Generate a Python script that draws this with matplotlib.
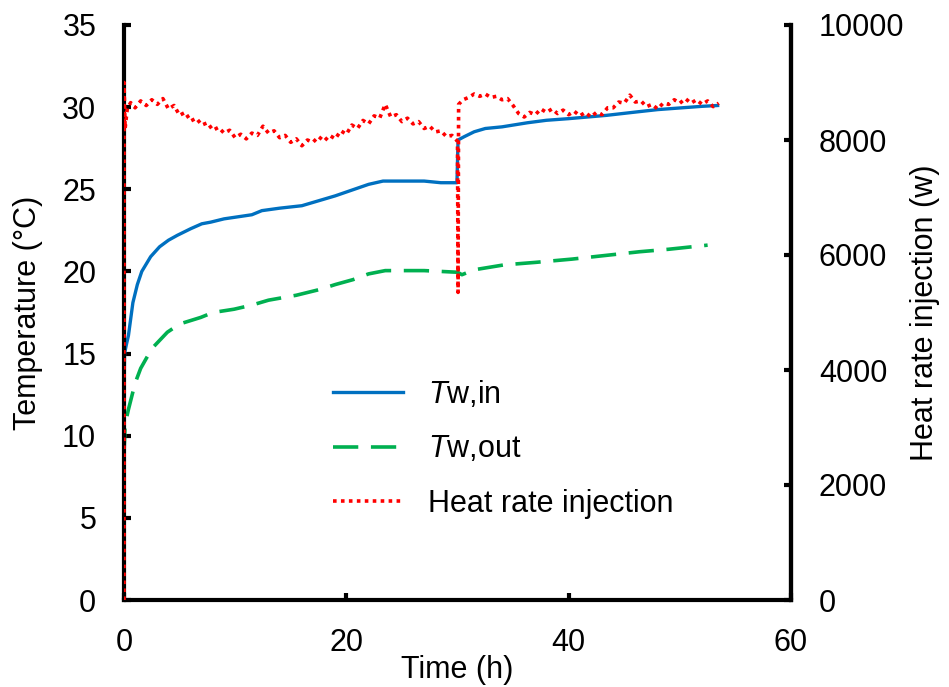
import matplotlib
matplotlib.use("Agg")
import matplotlib.pyplot as plt

plt.rcParams['font.family'] = ['Liberation Sans', 'DejaVu Sans']
plt.rcParams['mathtext.fontset'] = 'custom'
plt.rcParams['mathtext.it'] = 'Liberation Sans:italic'
plt.rcParams['mathtext.rm'] = 'Liberation Sans'

# ---- data ----
tin_t = [0.0, 0.05, 0.2, 0.4, 0.8, 1.2, 1.6, 2.4, 3.2, 4.0, 4.8, 6.0, 7.0, 7.8, 9.0, 10.0,
         11.5, 12.4, 14.0, 16.0, 17.5, 19.0, 20.5, 22.0, 23.3, 25.0, 27.0, 28.5, 29.95,
         30.05, 30.6, 31.5, 32.5, 34.0, 36.3, 38.0, 40.0, 43.4, 46.0, 48.0, 50.0, 52.0, 53.4]
tin_v = [12.5, 15.0, 15.5, 16.1, 18.1, 19.2, 20.0, 20.9, 21.5, 21.9, 22.2, 22.6, 22.9, 23.0,
         23.2, 23.3, 23.45, 23.7, 23.85, 24.0, 24.3, 24.6, 24.95, 25.3, 25.5, 25.5, 25.5,
         25.4, 25.4, 28.0, 28.2, 28.5, 28.7, 28.8, 29.05, 29.2, 29.3, 29.5, 29.7, 29.85,
         29.95, 30.05, 30.1]

tout_t = [0.0, 0.1, 0.4, 1.0, 1.5, 2.5, 3.9, 5.0, 6.9, 8.0, 9.9, 11.5, 13.0, 15.5, 17.6,
          19.0, 20.6, 22.0, 23.5, 25.1, 27.0, 30.0, 30.4, 31.5, 34.2, 37.0, 40.3, 43.0,
          46.4, 49.0, 52.5]
tout_v = [8.9, 10.7, 11.6, 13.2, 14.1, 15.3, 16.3, 16.8, 17.2, 17.5, 17.7, 17.95, 18.25,
          18.55, 18.9, 19.2, 19.5, 19.85, 20.05, 20.05, 20.05, 19.95, 19.8, 20.1, 20.4,
          20.55, 20.75, 20.95, 21.2, 21.35, 21.6]

heat_t = [0.0, 0.0, 0.1, 0.3, 0.6, 1.0, 1.5, 2.0, 2.5, 3.0, 3.5, 4.0, 4.5, 5.0, 5.5, 6.0,
          6.5, 7.0, 7.5, 8.0, 8.5, 9.0, 9.5, 10.0, 10.5, 11.0, 11.5, 12.0, 12.5, 13.0, 13.5,
          14.0, 14.5, 15.0, 15.5, 16.0, 16.5, 17.0, 17.5, 18.0, 18.5, 19.0, 19.5, 20.0,
          20.5, 21.0, 21.5, 22.0, 22.5, 23.0, 23.5, 24.0, 24.5, 25.0, 25.5, 26.0, 26.5,
          27.0, 27.5, 28.0, 28.5, 29.0, 29.5, 30.0, 30.05, 30.1, 30.5, 31.0, 31.5, 32.0,
          32.5, 33.0, 33.5, 34.0, 34.5, 35.0, 35.5, 36.0, 36.5, 37.0, 37.5, 38.0, 38.5,
          39.0, 39.5, 40.0, 40.5, 41.0, 41.5, 42.0, 42.5, 43.0, 43.5, 44.0, 44.5, 45.0,
          45.5, 46.0, 46.5, 47.0, 47.5, 48.0, 48.5, 49.0, 49.5, 50.0, 50.5, 51.0, 51.5,
          52.0, 52.5, 53.0, 53.5]
heat_v = [0, 9000, 8200, 8550, 8650, 8560, 8680, 8600, 8700, 8620, 8720, 8540, 8600, 8430,
          8480, 8330, 8380, 8260, 8300, 8170, 8220, 8120, 8170, 8040, 8100, 8020, 8120,
          8080, 8240, 8120, 8160, 8040, 8080, 7960, 8020, 7900, 8000, 7960, 8060, 7980,
          8080, 8020, 8160, 8100, 8260, 8200, 8340, 8280, 8420, 8380, 8620, 8400, 8440,
          8320, 8380, 8280, 8320, 8200, 8240, 8140, 8160, 8060, 8080, 7980, 5350, 8620,
          8700, 8740, 8800, 8760, 8800, 8740, 8760, 8700, 8720, 8600, 8460, 8400, 8480,
          8440, 8540, 8480, 8540, 8460, 8520, 8440, 8500, 8420, 8480, 8400, 8480, 8440,
          8560, 8560, 8660, 8640, 8780, 8660, 8680, 8580, 8620, 8540, 8640, 8620, 8700,
          8640, 8720, 8640, 8700, 8620, 8680, 8580, 8640]

x_ticks = [0, 20, 40, 60]
y1_ticks = [0, 5, 10, 15, 20, 25, 30, 35]
y2_ticks = [0, 2000, 4000, 6000, 8000, 10000]

FS = 22

fig = plt.figure(figsize=(9.49, 6.87), dpi=100)
ax = fig.add_axes([124/949, 1-600/687, (791-124)/949, (600-25)/687])
ax2 = ax.twinx()

l1, = ax.plot(tin_t, tin_v, color='#0070C0', lw=2.4, label=r'$T$w,in')
l2, = ax.plot(tout_t, tout_v, color='#00B050', lw=2.6, dashes=(7, 3.5), label=r'$T$w,out')
l3, = ax2.plot(heat_t, heat_v, color='#FF0000', lw=2.6, linestyle=(0, (1, 1.2)),
               label='Heat rate injection')

ax.set_xlim(0, 60)
ax.set_ylim(0, 35)
ax2.set_ylim(0, 10000)
ax.set_xticks(x_ticks)
ax.set_yticks(y1_ticks)
ax2.set_yticks(y2_ticks)

for a in (ax, ax2):
    a.spines['top'].set_visible(False)
    for s in ('left', 'right', 'bottom'):
        a.spines[s].set_linewidth(3)
    a.tick_params(direction='in', length=5, width=3, labelsize=FS, pad=20)
ax2.spines['left'].set_visible(False)
ax2.spines['bottom'].set_visible(False)

ax.set_xlabel('Time (h)', fontsize=FS, labelpad=-2)
ax.set_ylabel('Temperature (°C)', fontsize=FS, labelpad=14)
ax2.set_ylabel('Heat rate injection (w)', fontsize=FS, labelpad=4)

leg = ax2.legend(handles=[l1, l2, l3], frameon=False, fontsize=FS,
                 handlelength=2.3, handletextpad=0.8, labelspacing=0.8,
                 loc='upper left', bbox_to_anchor=(333/949, 1-379/687),
                 bbox_transform=fig.transFigure, borderaxespad=0, borderpad=0)

fig.savefig('out.png', dpi=100)
